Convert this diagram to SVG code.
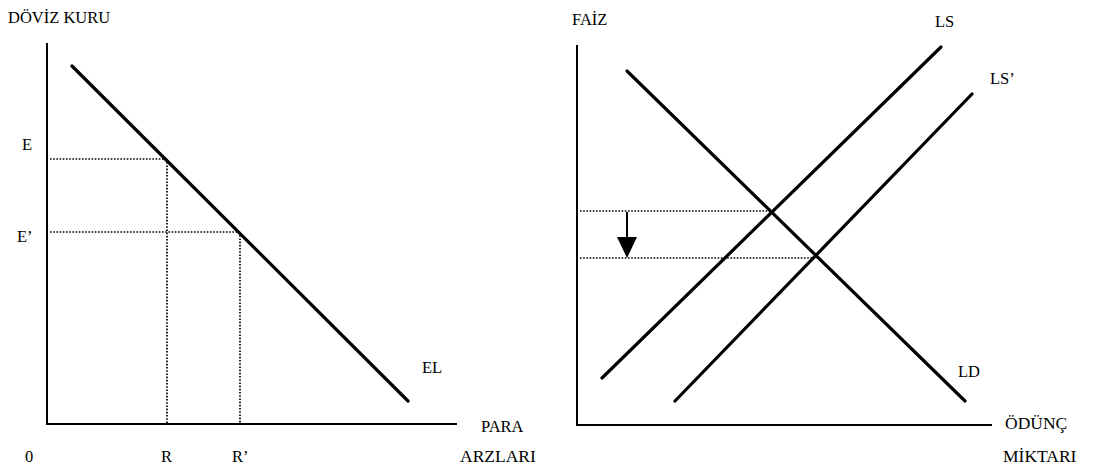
<svg xmlns="http://www.w3.org/2000/svg" width="1096" height="471" viewBox="0 0 1096 471">
<style>
text{font-family:"Liberation Serif","Times New Roman",serif;font-size:16.5px;fill:#000}
.wide{font-size:17.5px}
.ax{stroke:#000;stroke-width:2;fill:none}
.cv{stroke:#000;stroke-width:3.2;fill:none;stroke-linecap:round}
.dt{stroke:#000;stroke-width:1.7;fill:none;stroke-dasharray:1.6 1.6}
</style>
<rect width="1096" height="471" fill="#fff"/>
<g id="left-axes">
<line class="ax" x1="47" y1="43" x2="47" y2="425"/>
<line class="ax" x1="46" y1="424" x2="457" y2="424"/>
<text x="8" y="23">DÖVİZ KURU</text>
<text x="22" y="150">E</text>
<text x="17" y="242">E’</text>
<text x="25" y="462">0</text>
<text x="161" y="462">R</text>
<text x="232" y="462">R’</text>
<text x="481" y="432">PARA</text>
<text class="wide" x="460" y="462">ARZLARI</text>
</g>
<g id="EL">
<line class="cv" x1="72" y1="66" x2="408" y2="401"/>
<text x="422" y="373">EL</text>
</g>
<g id="right-axes">
<line class="ax" x1="577" y1="45" x2="577" y2="425"/>
<line class="ax" x1="576" y1="425" x2="992" y2="425"/>
<text x="572" y="25">FAİZ</text>
<text class="wide" x="1005" y="429">ÖDÜNÇ</text>
<text class="wide" x="1003" y="462">MİKTARI</text>
</g>
<g id="LD">
<line class="cv" x1="627" y1="71" x2="965" y2="401"/>
<text x="958" y="377">LD</text>
</g>
<g id="LS">
<line class="cv" x1="602" y1="378" x2="941" y2="47"/>
<text x="935" y="27">LS</text>
</g>
<g id="LS2">
<line class="cv" x1="675" y1="401" x2="972" y2="94"/>
<text x="990" y="84">LS’</text>
</g>
<g id="connectors">
<line class="dt" x1="50" y1="159" x2="167" y2="159"/>
<line class="dt" x1="50" y1="232" x2="240" y2="232"/>
<line class="dt" x1="167" y1="159" x2="167" y2="423"/>
<line class="dt" x1="240" y1="232" x2="240" y2="423"/>
<line class="dt" x1="580" y1="211" x2="770" y2="211"/>
<line class="dt" x1="580" y1="258" x2="820" y2="258"/>
<line x1="627" y1="212" x2="627" y2="240" stroke="#000" stroke-width="2"/>
<path d="M617,237 L637,237 L627,258 Z" fill="#000"/>
</g>
</svg>
